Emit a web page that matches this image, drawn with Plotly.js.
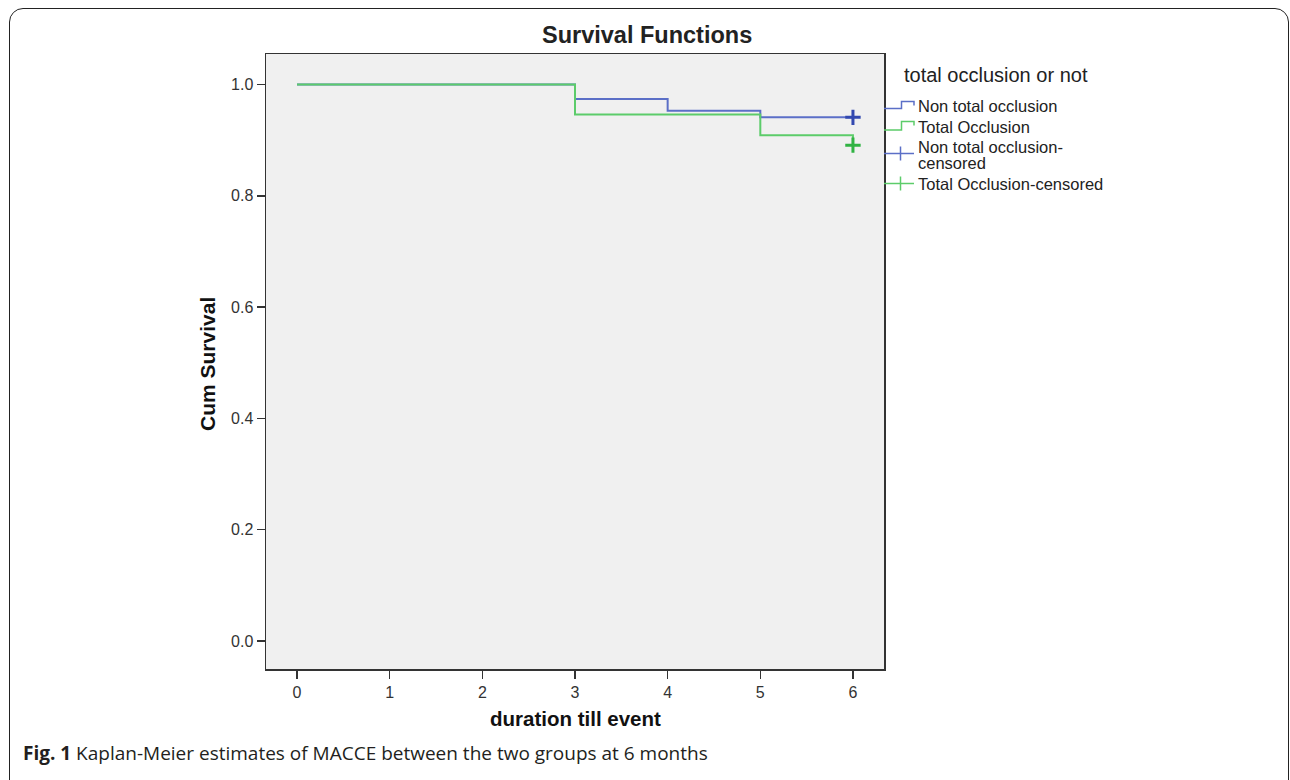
<!DOCTYPE html>
<html>
<head>
<meta charset="utf-8">
<script src="https://cdn.plot.ly/plotly-3.0.1.min.js"></script>
<style>
  html, body { margin: 0; padding: 0; background: #fff; overflow: hidden; }
  #chart { width: 1290px; height: 780px; }
  #frame { position: absolute; left: 9px; top: 8px; width: 1280px; height: 800px;
           border: 1.5px solid #222; border-radius: 14px; pointer-events: none; box-sizing: border-box; }
</style>
</head>
<body>
<div id="chart"></div>
<div id="frame"></div>
<script>
// ---- data ----
const groupNames = ["Non total occlusion", "Total Occlusion"];
const nonTotalTimes = [0, 3, 4, 5, 6];
const nonTotalSurv  = [1.0, 0.974, 0.953, 0.941, 0.941];
const totalTimes    = [0, 3, 5, 6];
const totalSurv     = [1.0, 0.946, 0.909, 0.891];
const nonTotalCensTimes = [6];
const nonTotalCensSurv  = [0.941];
const totalCensTimes    = [6];
const totalCensSurv     = [0.891];
const xTicks = [0, 1, 2, 3, 4, 5, 6];
const yTicks = [0.0, 0.2, 0.4, 0.6, 0.8, 1.0];

// ---- layout helpers (pixel -> paper) ----
const L = 266, R = 884, T = 54, B = 669;
const px = x => (x - L) / (R - L);
const py = y => (B - y) / (B - T);

const blueLine = '#5b6fc7', greenLine = '#5ccc6a';
const blueMark = '#3349b0', greenMark = '#30b343';
const FONT = 'Liberation Sans, Arial, sans-serif';

const traces = [
  { x: nonTotalTimes, y: nonTotalSurv, mode: 'lines', line: { shape: 'hv', color: blueLine, width: 2 }, name: groupNames[0] },
  { x: totalTimes, y: totalSurv, mode: 'lines', line: { shape: 'hv', color: greenLine, width: 2 }, name: groupNames[1] },
  { x: nonTotalCensTimes, y: nonTotalCensSurv, mode: 'markers', name: groupNames[0] + '-censored',
    marker: { symbol: 'cross-thin', size: 11, line: { color: blueMark, width: 3 } } },
  { x: totalCensTimes, y: totalCensSurv, mode: 'markers', name: groupNames[1] + '-censored',
    marker: { symbol: 'cross-thin', size: 11, line: { color: greenMark, width: 3 } } }
];

function stepIcon(yLow, yTop, yEnd, color) {
  return { type: 'path', xref: 'paper', yref: 'paper',
    path: `M ${px(884)} ${py(yLow)} L ${px(901.5)} ${py(yLow)} L ${px(901.5)} ${py(yTop)} L ${px(914)} ${py(yTop)} L ${px(914)} ${py(yEnd)}`,
    line: { color: color, width: 1.5 } };
}
function crossIcon(yc, color) {
  return [
    { type: 'line', xref: 'paper', yref: 'paper', x0: px(884), x1: px(914), y0: py(yc), y1: py(yc), line: { color: color, width: 1.5 } },
    { type: 'line', xref: 'paper', yref: 'paper', x0: px(900.5), x1: px(900.5), y0: py(yc - 7), y1: py(yc + 7), line: { color: color, width: 1.5 } }
  ];
}

const shapes = [
  stepIcon(108.5, 101.5, 105.5, blueLine),
  stepIcon(130, 121.5, 125.5, greenLine),
  ...crossIcon(153.5, blueLine),
  ...crossIcon(183.5, greenLine)
];

function txt(x, y, text, size, opts) {
  return Object.assign({ xref: 'paper', yref: 'paper', x: px(x), y: py(y), text: text, showarrow: false,
    xanchor: 'left', yanchor: 'middle', font: { family: FONT, size: size, color: '#222' } }, opts || {});
}

const annotations = [
  txt(647, 35, '<b>Survival Functions</b>', 23.5, { xanchor: 'center' }),
  txt(575, 718, '<b>duration till event</b>', 20.5, { xanchor: 'center', font: { family: FONT, size: 20.5, color: '#111' } }),
  txt(207, 364, '<b>Cum Survival</b>', 21, { xanchor: 'center', textangle: -90, font: { family: FONT, size: 21, color: '#111' } }),
  txt(902, 75, 'total occlusion or not', 20),
  txt(916, 105.5, groupNames[0], 16.5),
  txt(916, 126.5, groupNames[1], 16.5),
  txt(916, 147, groupNames[0] + '-', 16.5),
  txt(916, 163, 'censored', 16.5),
  txt(916, 184, groupNames[1] + '-censored', 16.5),
  txt(21, 753, '<b>Fig. 1</b> Kaplan-Meier estimates of MACCE between the two groups at 6 months', 19,
      { font: { family: 'Open Sans, sans-serif', size: 19, color: '#231f20' } })
];

const layout = {
  width: 1290, height: 780,
  margin: { l: L, r: 1290 - R, t: T, b: 780 - B, pad: 0 },
  paper_bgcolor: '#ffffff', plot_bgcolor: '#f0f0f0',
  showlegend: false,
  font: { family: FONT, color: '#222' },
  xaxis: {
    range: [-0.335, 6.335], tickvals: xTicks, ticktext: xTicks.map(String),
    ticks: 'outside', ticklen: 8, tickwidth: 1.5, tickcolor: '#333',
    showline: true, mirror: true, linecolor: '#333', linewidth: 1.5,
    showgrid: false, zeroline: false, tickfont: { size: 16, family: FONT, color: '#333' }
  },
  yaxis: {
    range: [-0.0503, 1.0548], tickvals: yTicks, ticktext: yTicks.map(v => v.toFixed(1)),
    ticks: 'outside', ticklen: 8, tickwidth: 1.5, tickcolor: '#333',
    showline: true, mirror: true, linecolor: '#333', linewidth: 1.5,
    showgrid: false, zeroline: false, tickfont: { size: 16, family: FONT, color: '#333' }
  },
  shapes: shapes,
  annotations: annotations
};

Plotly.newPlot('chart', traces, layout, { displayModeBar: false, staticPlot: true });
</script>
</body>
</html>
